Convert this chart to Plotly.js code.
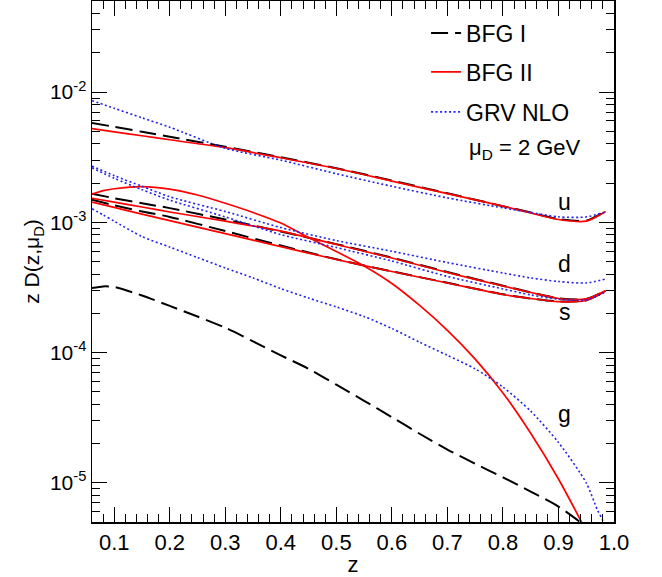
<!DOCTYPE html>
<html>
<head>
<meta charset="utf-8">
<script src="https://cdn.plot.ly/plotly-3.0.1.min.js"></script>
<style>html,body{margin:0;padding:0;background:#fff;}#plot{width:662px;height:577px;}</style>
</head>
<body>
<div id="plot"></div>
<script>
// z grids
var zQ = [0.06,0.1,0.15,0.2,0.3,0.4,0.5,0.6,0.7,0.8,0.85,0.9,0.95,0.985];
var zG = [0.06,0.08,0.1,0.15,0.2,0.25,0.3,0.35,0.4,0.45,0.5,0.55,0.6,0.65,0.7,0.75,0.8,0.85,0.9,0.95];
var zGgrv = [0.06,0.08,0.1,0.15,0.2,0.25,0.3,0.35,0.4,0.45,0.5,0.55,0.6,0.65,0.7,0.75,0.8,0.85,0.9,0.95,0.97,0.98,0.99];

// u quark
var bfg1_u = [5.79e-3,5.41e-3,4.95e-3,4.54e-3,3.80e-3,3.16e-3,2.60e-3,2.09e-3,1.67e-3,1.33e-3,1.19e-3,1.06e-3,1.03e-3,1.22e-3];
var bfg2_u = [5.24e-3,4.95e-3,4.62e-3,4.30e-3,3.74e-3,3.13e-3,2.59e-3,2.07e-3,1.66e-3,1.33e-3,1.18e-3,1.05e-3,1.02e-3,1.21e-3];
var grv_u  = [8.59e-3,7.50e-3,6.34e-3,5.37e-3,3.70e-3,3.00e-3,2.36e-3,1.89e-3,1.54e-3,1.29e-3,1.19e-3,1.10e-3,1.10e-3,1.20e-3];
// d quark
var bfg1_d = [1.66e-3,1.53e-3,1.40e-3,1.285e-3,1.05e-3,8.49e-4,6.8e-4,5.35e-4,4.15e-4,3.26e-4,2.90e-4,2.61e-4,2.58e-4,2.99e-4];
var bfg2_d = [1.53e-3,1.43e-3,1.31e-3,1.20e-3,1.02e-3,8.56e-4,6.75e-4,5.32e-4,4.12e-4,3.24e-4,2.89e-4,2.60e-4,2.58e-4,3.00e-4];
var grv_d  = [2.70e-3,2.28e-3,1.89e-3,1.57e-3,1.21e-3,9.11e-4,7.24e-4,5.99e-4,4.91e-4,4.08e-4,3.74e-4,3.51e-4,3.42e-4,3.67e-4];
// s quark
var bfg1_s = [1.49e-3,1.35e-3,1.21e-3,1.10e-3,8.56e-4,6.63e-4,5.2e-4,4.2e-4,3.43e-4,2.80e-4,2.60e-4,2.47e-4,2.52e-4,2.97e-4];
var bfg2_s = [1.43e-3,1.30e-3,1.156e-3,1.03e-3,8.19e-4,6.51e-4,5.18e-4,4.19e-4,3.42e-4,2.79e-4,2.60e-4,2.46e-4,2.51e-4,2.97e-4];
var grv_s  = [2.62e-3,2.18e-3,1.78e-3,1.48e-3,1.10e-3,8.05e-4,6.40e-4,5.04e-4,3.84e-4,3.08e-4,2.77e-4,2.57e-4,2.53e-4,2.92e-4];
// gluon
var bfg1_g = [3.13e-4,3.22e-4,3.19e-4,2.74e-4,2.28e-4,1.89e-4,1.55e-4,1.22e-4,9.52e-5,7.50e-5,5.66e-5,4.26e-5,3.19e-5,2.38e-5,1.80e-5,1.40e-5,1.10e-5,8.57e-6,6.57e-6,4.61e-6];
var bfg2_g = [1.645e-3,1.75e-3,1.81e-3,1.88e-3,1.80e-3,1.62e-3,1.40e-3,1.19e-3,9.86e-4,7.63e-4,5.96e-4,4.62e-4,3.39e-4,2.30e-4,1.48e-4,8.9e-5,4.9e-5,2.4e-5,1.07e-5,4.27e-6];
var grv_g  = [1.27e-3,1.14e-3,1.02e-3,7.77e-4,6.45e-4,5.36e-4,4.46e-4,3.74e-4,3.10e-4,2.62e-4,2.24e-4,1.89e-4,1.53e-4,1.20e-4,9.52e-5,7.50e-5,5.43e-5,3.55e-5,2.04e-5,1.00e-5,6.2e-6,5.1e-6,3.2e-6];

var xTickVals = [0.1,0.2,0.3,0.4,0.5,0.6,0.7,0.8,0.9,1.0];
var xTickText = ['0.1','0.2','0.3','0.4','0.5','0.6','0.7','0.8','0.9','1.0'];
var yTickVals = [1e-5,1e-4,1e-3,1e-2];
var yTickText = ['10<sup>-5</sup>','10<sup>-4</sup>','10<sup>-3</sup>','10<sup>-2</sup>'];

// curve labels (name, z position, value position)
var labelText = ['u','d','s','g'];
var labelZ = [0.911,0.911,0.911,0.911];
var labelV = [1.43e-3,4.8e-4,2.05e-4,3.4e-5];

var FF = 'Liberation Sans, Arial, Helvetica, sans-serif';
var styles = {
  'BFG I':   {color:'#000000', width:2,   dash:'17px,7px', legend:'legend'},
  'BFG II':  {color:'#ff0000', width:1.7, dash:'solid',    legend:'legend2'},
  'GRV NLO': {color:'#2222ee', width:1.6, dash:'2px,2.5px',legend:'legend3'}
};
var sets = [
  ['BFG I',   [[zQ,bfg1_u],[zQ,bfg1_d],[zQ,bfg1_s],[zG,bfg1_g]]],
  ['BFG II',  [[zQ,bfg2_u],[zQ,bfg2_d],[zQ,bfg2_s],[zG,bfg2_g]]],
  ['GRV NLO', [[zQ,grv_u],[zQ,grv_d],[zQ,grv_s],[zGgrv,grv_g]]]
];
var traces = [];
sets.forEach(function(s){
  var st = styles[s[0]];
  s[1].forEach(function(c, i){
    traces.push({
      x: c[0], y: c[1], type:'scatter', mode:'lines',
      name: s[0], legend: st.legend, showlegend: i === 0,
      line: {color: st.color, width: st.width, dash: st.dash, shape:'spline', smoothing:0.7},
      hoverinfo:'skip'
    });
  });
});

function legendBox(ypaper){
  return {x:0.64, y:ypaper, xanchor:'left', yanchor:'middle', bgcolor:'rgba(0,0,0,0)',
          borderwidth:0, font:{family:FF, size:23, color:'#000'}};
}

var annotations = [
  {xref:'paper', yref:'paper', x:0.718, y:0.716, xanchor:'left', yanchor:'middle', showarrow:false,
   text:'μ<sub>D</sub> = 2 GeV', font:{family:FF, size:22, color:'#000'}}
];
labelText.forEach(function(t, i){
  annotations.push({xref:'x', yref:'y', x:labelZ[i], y:Math.log10(labelV[i]), showarrow:false,
    text:t, font:{family:FF, size:23, color:'#000'}});
});

var layout = {
  width:662, height:577,
  margin:{l:92, r:48, t:1, b:55},
  paper_bgcolor:'#fff', plot_bgcolor:'#fff',
  font:{family:FF, size:20, color:'#000'},
  showlegend:true,
  legend: legendBox(0.9386),
  legend2: legendBox(0.8637),
  legend3: legendBox(0.787),
  xaxis:{
    type:'linear', range:[0.06,1.0],
    tickmode:'array', tickvals:xTickVals, ticktext:xTickText,
    ticks:'inside', ticklen:15, tickwidth:1, tickcolor:'#000',
    minor:{ticks:'inside', ticklen:8, dtick:0.02, tick0:0, tickcolor:'#000', tickwidth:1, showgrid:false},
    showline:true, linecolor:'#000', linewidth:1.5, mirror:'ticks',
    showgrid:false, zeroline:false,
    tickfont:{family:FF, size:22, color:'#000'},
    title:{text:'z', font:{family:FF, size:22, color:'#000'}, standoff:0}
  },
  yaxis:{
    type:'log', range:[Math.log10(5e-6), Math.log10(5e-2)],
    tickmode:'array', tickvals:yTickVals, ticktext:yTickText,
    ticks:'inside', ticklen:15, tickwidth:1, tickcolor:'#000',
    minor:{ticks:'inside', ticklen:8, dtick:'D1', tickcolor:'#000', tickwidth:1, showgrid:false},
    showline:true, linecolor:'#000', linewidth:1.5, mirror:'ticks',
    showgrid:false, zeroline:false,
    tickfont:{family:FF, size:21, color:'#000'},
    title:{text:'z D(z,μ<sub>D</sub>)', font:{family:FF, size:21, color:'#000'}, standoff:4}
  },
  annotations: annotations
};
Plotly.newPlot('plot', traces, layout, {displayModeBar:false, staticPlot:true});
</script>
</body>
</html>
